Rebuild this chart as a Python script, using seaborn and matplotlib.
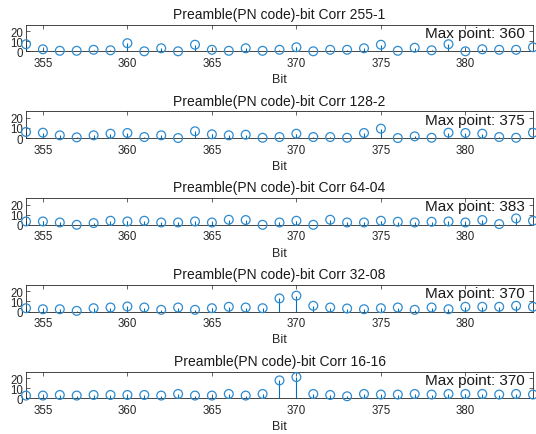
import pandas as pd
import matplotlib.pyplot as plt
import seaborn as sns

# bit positions shown on the x axis
bits = list(range(354, 385))

# correlation values (354 .. 384)
corr_255_1 = [7, 2, 0.5, 0.5, 1.5, 1, 8, 0, 3, 0, 6.5, 1.5, 0.5, 3, 0.5,
              1.5, 4, 0, 1.5, 1.5, 3, 6.5, 0.5, 3.5, 1, 7, 0, 2, 1.5, 1.5, 4]
corr_128_2 = [6, 5.3, 2.7, 0.7, 2.7, 4.3, 5, 1, 2.7, 0, 6.7, 3.7, 2.7, 3.3, 0.3,
              1, 4.3, 1, 1, 0.3, 5, 9.3, 0, 1.7, 0.3, 5.3, 5, 4.3, 1, 0.3, 5.3]
corr_64_04 = [3.3, 3.3, 2.3, 0, 1.7, 4, 3.3, 4, 2.3, 2.3, 3.3, 2.3, 5, 4.7, 0,
              2.3, 4, 0, 5, 2.3, 2.3, 4, 3, 2.3, 3, 3.3, 2.3, 4.7, 0.7, 6.3, 4]
corr_32_08 = [3.3, 2.3, 2.3, 0.7, 3.3, 4, 5, 4, 1.7, 4, 1.7, 3.3, 4.7, 4, 3.3,
              13, 15.7, 5.7, 4, 3, 2.3, 3.3, 4, 1.7, 4, 2.3, 4.7, 4.7, 4.7, 5.7, 4.7]
corr_16_16 = [2.7, 2.7, 3.3, 2.7, 3.3, 3.3, 3.3, 3.3, 2.7, 4.3, 2.7, 2.7, 4.3, 2.7, 4.3,
              17.7, 21, 4.3, 3.3, 2, 4.3, 3.7, 3.7, 4.3, 3.7, 4.3, 4.3, 4.3, 3.7, 4.3, 3.7]

series = [corr_255_1, corr_128_2, corr_64_04, corr_32_08, corr_16_16]
titles = ["Preamble(PN code)-bit Corr 255-1",
          "Preamble(PN code)-bit Corr 128-2",
          "Preamble(PN code)-bit Corr 64-04",
          "Preamble(PN code)-bit Corr 32-08",
          "Preamble(PN code)-bit Corr 16-16"]
max_points = [360, 375, 383, 370, 370]

sns.set_theme(style="ticks")
plt.rcParams['font.family'] = ['Liberation Sans', 'DejaVu Sans']

blue = '#0072BD'
marker_blue = '#2E8BD0'
grey = '#262626'

fig = plt.figure(figsize=(5.36, 4.35), dpi=100)

for i, (vals, title, mp) in enumerate(zip(series, titles, max_points)):
    bottom_px = 52.3 + i * 86.75
    ax = fig.add_axes([26 / 536, 1 - bottom_px / 435, 507 / 536, 26.8 / 435])
    df = pd.DataFrame({'Bit': bits, 'Corr': vals})

    ax.vlines(df['Bit'], 0, df['Corr'], color=blue, lw=0.8, zorder=2)
    sns.scatterplot(data=df, x='Bit', y='Corr', ax=ax, marker='o', s=40,
                    facecolors='none', edgecolor=marker_blue, linewidth=0.9,
                    clip_on=False, zorder=3)
    ax.axhline(0, color=grey, lw=0.6, zorder=2)

    ax.set_xlim(354, 384)
    ax.set_ylim(0, 26.5)
    ax.set_xticks([355, 360, 365, 370, 375, 380])
    ax.set_yticks([0, 10, 20])
    ax.tick_params(direction='in', top=True, right=True, length=3, width=0.5,
                   colors=grey, labelsize=8.3)
    ax.tick_params(axis='x', pad=4)
    ax.tick_params(axis='y', pad=2)
    for sp in ax.spines.values():
        sp.set_color(grey)
        sp.set_linewidth(0.6)

    ax.set_title(title, fontsize=10, color='k', pad=4.8)
    ax.set_xlabel('Bit', fontsize=9, color=grey, labelpad=3)
    ax.set_ylabel('')
    ax.annotate(f'Max point: {mp}', xy=(1, 1), xycoords='axes fraction',
                xytext=(-8.5, -12.3), textcoords='offset pixels',
                ha='right', va='baseline', fontsize=11, color='k')

fig.savefig('out.png', dpi=100)
